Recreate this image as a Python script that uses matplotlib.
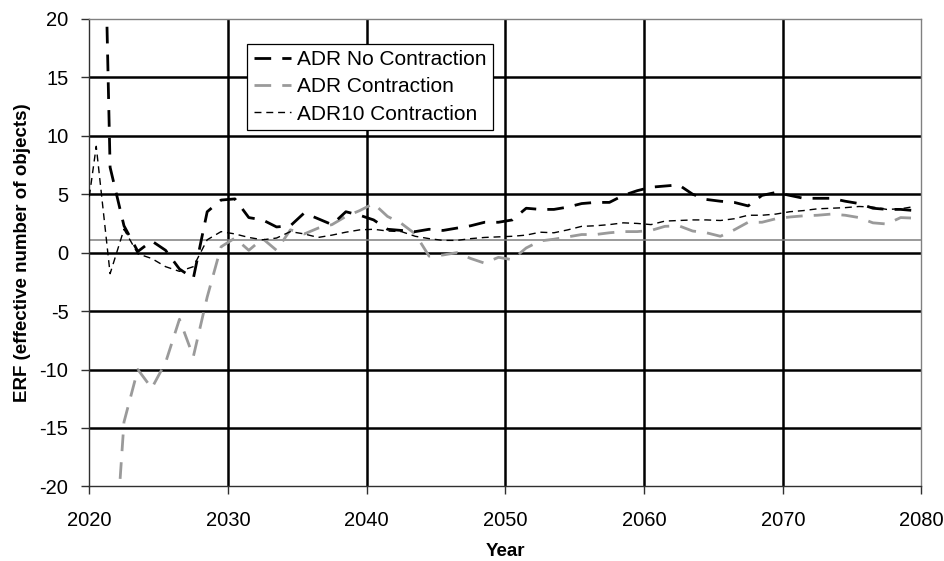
import numpy as np
import matplotlib
matplotlib.use("Agg")
import matplotlib.pyplot as plt

plt.rcParams['font.family'] = ['Liberation Sans', 'DejaVu Sans']
plt.rcParams['axes.unicode_minus'] = False

# data (values at mid-year points)
years = np.arange(2020.5, 2080.0, 1.0)

adr_no_contraction = [
    61, 7.3, 2.3, 0.1, 1.0, 0.2, -1.4, -2.2, 3.5, 4.5,
    4.6, 3.0, 2.8, 2.2, 2.3, 3.4, 2.9, 2.4, 3.5, 3.2,
    2.8, 2.0, 1.9, 1.8, 2.0, 1.9, 2.1, 2.3, 2.6, 2.6,
    2.8, 3.8, 3.7, 3.7, 3.9, 4.2, 4.3, 4.3, 4.9, 5.3,
    5.6, 5.7, 5.8, 5.0, 4.55, 4.4, 4.3, 4.0, 4.9, 5.15,
    4.9, 4.65, 4.65, 4.65, 4.4, 4.2, 3.8, 3.7, 3.7, 3.6,
]

adr_contraction = [
    -60, -32, -14.5, -10.0, -11.6, -9.4, -5.7, -8.9, -3.8, 0.5,
    1.25, 0.2, 1.2, 0.2, 1.95, 1.6, 2.1, 2.4, 3.1, 3.6,
    4.2, 3.1, 2.5, 1.6, -0.3, -0.2, 0.0, -0.5, -0.9, -0.4,
    -0.6, 0.4, 1.0, 1.15, 1.35, 1.55, 1.55, 1.7, 1.8, 1.8,
    1.9, 2.25, 2.3, 1.85, 1.7, 1.4, 1.95, 2.6, 2.6, 2.9,
    3.05, 3.15, 3.2, 3.3, 3.2, 3.0, 2.55, 2.45, 3.0, 2.95,
]

# ADR10 also has a point at the start year
adr10_years = np.concatenate([[2020.0], years])
adr10_contraction = [
    4.8,
    9.1, -1.8, 2.0, -0.1, -0.5, -1.2, -1.6, -1.2, 1.1, 1.8,
    1.6, 1.3, 1.1, 1.25, 1.8, 1.6, 1.3, 1.5, 1.75, 1.95,
    2.0, 1.85, 1.8, 1.4, 1.2, 1.05, 1.05, 1.2, 1.3, 1.35,
    1.4, 1.5, 1.75, 1.7, 1.95, 2.25, 2.3, 2.4, 2.55, 2.5,
    2.4, 2.7, 2.75, 2.8, 2.8, 2.75, 2.9, 3.2, 3.2, 3.3,
    3.5, 3.6, 3.75, 3.8, 3.85, 3.95, 3.9, 3.7, 3.75, 3.95,
]

ref_level = 1.1

fig = plt.figure(figsize=(9.45, 5.61), dpi=100)
ax = fig.add_axes([0.0945, 0.133, 0.8806, 0.8333])

ax.plot(years, adr_no_contraction, color='black', lw=2.0, dashes=(6, 4),
        label='ADR No Contraction', zorder=4)
ax.plot(years, adr_contraction, color='#9a9a9a', lw=2.0, dashes=(6, 4),
        label='ADR Contraction', zorder=3)
ax.plot(adr10_years, adr10_contraction, color='black', lw=1.0, dashes=(5, 3.5),
        label='ADR10 Contraction', zorder=5)
ax.axhline(ref_level, color='#7f7f7f', lw=1.1, zorder=2)

ax.set_xlim(2020, 2080)
ax.set_ylim(-20, 20)
ax.set_xticks(np.arange(2020, 2081, 10))
ax.set_yticks(np.arange(-20, 21, 5))

# heavy black grid, but not on the plot border
ax.grid(True, color='black', lw=1.8, zorder=1)
ax.set_axisbelow(True)
for gl in (ax.get_xgridlines()[0], ax.get_xgridlines()[-1],
           ax.get_ygridlines()[0], ax.get_ygridlines()[-1]):
    gl.set_visible(False)

for side in ('top', 'right'):
    ax.spines[side].set_color('#808080')
    ax.spines[side].set_linewidth(1.0)
for side in ('left', 'bottom'):
    ax.spines[side].set_color('#303030')
    ax.spines[side].set_linewidth(1.0)

ax.tick_params(axis='both', direction='out', length=6, width=1,
               color='#303030', labelsize=14.5)
ax.tick_params(axis='x', pad=12)
ax.tick_params(axis='y', pad=9)

ax.set_xlabel('Year', fontsize=13.5, fontweight='bold', labelpad=9)
ax.set_ylabel('ERF (effective number of objects)', fontsize=13.5,
              fontweight='bold', labelpad=6)

leg = ax.legend(loc='upper left', bbox_to_anchor=(0.19, 0.947), fontsize=15,
                frameon=True, fancybox=False, framealpha=1, edgecolor='black',
                handlelength=1.8, handletextpad=0.3, labelspacing=0.4,
                borderpad=0.3, borderaxespad=0)
leg.get_frame().set_linewidth(0.9)
leg.set_zorder(6)

fig.savefig('out.png', dpi=100)
